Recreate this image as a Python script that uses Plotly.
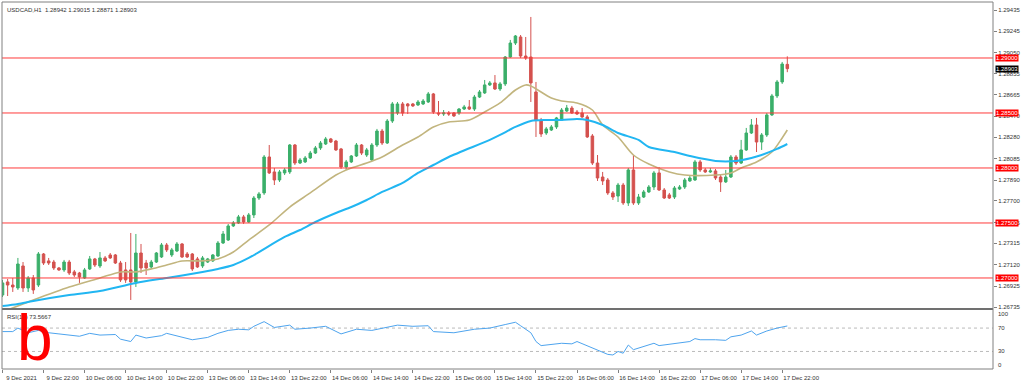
import plotly.graph_objects as go

# ---------------- data ----------------
open_ = [
    1.26845, 1.26964, 1.26936, 1.26909, 1.27109, 1.26909, 1.27000, 1.26936, 1.27218, 1.27155,
    1.27145, 1.27091, 1.27073, 1.27145, 1.27055, 1.27045, 1.27000, 1.27082, 1.27173, 1.27109,
    1.27182, 1.27209, 1.27209, 1.27136, 1.27073, 1.27073, 1.26964, 1.27227, 1.27136, 1.27100,
    1.27145, 1.27191, 1.27300, 1.27209, 1.27245, 1.27309, 1.27218, 1.27218, 1.27173, 1.27109,
    1.27145, 1.27155, 1.27200, 1.27318, 1.27345, 1.27473, 1.27500, 1.27555, 1.27509, 1.27573,
    1.27727, 1.27773, 1.28100, 1.27964, 1.27891, 1.27955, 1.27964, 1.28209, 1.28045, 1.28055,
    1.28091, 1.28136, 1.28182, 1.28218, 1.28264, 1.28245, 1.28173, 1.28009, 1.28055, 1.28109,
    1.28209, 1.28118, 1.28073, 1.28209, 1.28336, 1.28227, 1.28427, 1.28500, 1.28582, 1.28582,
    1.28582, 1.28573, 1.28582, 1.28600, 1.28673, 1.28500, 1.28491, 1.28500, 1.28500, 1.28500,
    1.28536, 1.28555, 1.28536, 1.28645, 1.28682, 1.28755, 1.28773, 1.28718, 1.28764, 1.29009,
    1.29136, 1.29191, 1.29018, 1.29009, 1.28691, 1.28436, 1.28318, 1.28345, 1.28373, 1.28436,
    1.28518, 1.28545, 1.28509, 1.28500, 1.28464, 1.28291, 1.28045, 1.27918, 1.27891, 1.27773,
    1.27745, 1.27845, 1.27682, 1.27982, 1.27682, 1.27736, 1.27782, 1.27827, 1.27955, 1.27800,
    1.27755, 1.27736, 1.27809, 1.27827, 1.27882, 1.27891, 1.28055, 1.27982, 1.27964, 1.27973,
    1.27918, 1.27873, 1.27918, 1.28100, 1.28045, 1.28164, 1.28318, 1.28391, 1.28236, 1.28300,
    1.28482, 1.28655, 1.28782, 1.28942]
high = [
    1.26982, 1.26991, 1.27000, 1.27182, 1.27145, 1.27018, 1.27027, 1.27236, 1.27227, 1.27182,
    1.27164, 1.27100, 1.27164, 1.27164, 1.27073, 1.27055, 1.27091, 1.27200, 1.27182, 1.27236,
    1.27200, 1.27227, 1.27218, 1.27155, 1.27145, 1.27409, 1.27400, 1.27309, 1.27164, 1.27164,
    1.27236, 1.27318, 1.27318, 1.27273, 1.27327, 1.27318, 1.27236, 1.27227, 1.27191, 1.27200,
    1.27182, 1.27218, 1.27336, 1.27427, 1.27491, 1.27518, 1.27573, 1.27573, 1.27591, 1.27745,
    1.27782, 1.28118, 1.28209, 1.28000, 1.27982, 1.28000, 1.28218, 1.28218, 1.28091, 1.28109,
    1.28155, 1.28200, 1.28245, 1.28282, 1.28273, 1.28255, 1.28182, 1.28073, 1.28118, 1.28227,
    1.28218, 1.28182, 1.28227, 1.28355, 1.28355, 1.28445, 1.28600, 1.28600, 1.28600, 1.28591,
    1.28591, 1.28618, 1.28627, 1.28691, 1.28682, 1.28609, 1.28527, 1.28518, 1.28509, 1.28545,
    1.28573, 1.28618, 1.28664, 1.28709, 1.28800, 1.28791, 1.28845, 1.28782, 1.29018, 1.29164,
    1.29209, 1.29209, 1.29191, 1.29373, 1.28782, 1.28455, 1.28373, 1.28391, 1.28464, 1.28545,
    1.28573, 1.28564, 1.28527, 1.28545, 1.28482, 1.28309, 1.28118, 1.27964, 1.27909, 1.27791,
    1.27864, 1.27864, 1.28000, 1.28118, 1.27764, 1.27800, 1.27845, 1.27973, 1.28009, 1.27818,
    1.27773, 1.27836, 1.27845, 1.27909, 1.27927, 1.28073, 1.28073, 1.28000, 1.28000, 1.27991,
    1.27936, 1.27982, 1.28118, 1.28118, 1.28255, 1.28364, 1.28445, 1.28455, 1.28318, 1.28500,
    1.28673, 1.28800, 1.28964, 1.29015]
low = [
    1.26827, 1.26836, 1.26873, 1.26891, 1.26873, 1.26873, 1.26855, 1.26918, 1.27118, 1.27118,
    1.27073, 1.27064, 1.27055, 1.27027, 1.27009, 1.26955, 1.26991, 1.27073, 1.27100, 1.27091,
    1.27145, 1.27173, 1.27127, 1.26964, 1.26955, 1.26800, 1.26918, 1.27045, 1.27027, 1.27082,
    1.27136, 1.27182, 1.27236, 1.27191, 1.27236, 1.27182, 1.27182, 1.27064, 1.27091, 1.27091,
    1.27136, 1.27145, 1.27191, 1.27309, 1.27336, 1.27464, 1.27491, 1.27491, 1.27500, 1.27545,
    1.27709, 1.27755, 1.27945, 1.27845, 1.27873, 1.27936, 1.27945, 1.28027, 1.28036, 1.28045,
    1.28082, 1.28127, 1.28164, 1.28209, 1.28227, 1.28155, 1.27991, 1.27982, 1.28045, 1.28100,
    1.28118, 1.28100, 1.28064, 1.28191, 1.28209, 1.28218, 1.28409, 1.28482, 1.28473, 1.28491,
    1.28555, 1.28564, 1.28573, 1.28591, 1.28491, 1.28473, 1.28473, 1.28473, 1.28464, 1.28482,
    1.28527, 1.28527, 1.28518, 1.28636, 1.28673, 1.28745, 1.28709, 1.28700, 1.28745, 1.29000,
    1.29118, 1.29000, 1.28982, 1.28600, 1.28282, 1.28282, 1.28300, 1.28336, 1.28355, 1.28427,
    1.28509, 1.28491, 1.28482, 1.28455, 1.28273, 1.28027, 1.27882, 1.27845, 1.27755, 1.27709,
    1.27691, 1.27664, 1.27655, 1.27664, 1.27664, 1.27727, 1.27773, 1.27800, 1.27791, 1.27718,
    1.27718, 1.27718, 1.27800, 1.27809, 1.27873, 1.27882, 1.27964, 1.27955, 1.27955, 1.27891,
    1.27782, 1.27864, 1.27909, 1.28027, 1.28036, 1.28155, 1.28309, 1.28145, 1.28164, 1.28282,
    1.28473, 1.28636, 1.28764, 1.28871]
close = [
    1.26955, 1.26936, 1.26918, 1.27127, 1.26909, 1.27000, 1.26891, 1.27218, 1.27136, 1.27136,
    1.27091, 1.27073, 1.27145, 1.27045, 1.27027, 1.27009, 1.27073, 1.27173, 1.27118, 1.27182,
    1.27155, 1.27182, 1.27136, 1.26982, 1.26982, 1.26964, 1.27227, 1.27091, 1.27091, 1.27145,
    1.27227, 1.27300, 1.27255, 1.27255, 1.27309, 1.27191, 1.27191, 1.27082, 1.27100, 1.27182,
    1.27173, 1.27209, 1.27318, 1.27400, 1.27473, 1.27500, 1.27555, 1.27509, 1.27573, 1.27727,
    1.27764, 1.28100, 1.27955, 1.27891, 1.27964, 1.27982, 1.28209, 1.28045, 1.28073, 1.28091,
    1.28136, 1.28182, 1.28227, 1.28264, 1.28236, 1.28164, 1.28009, 1.28055, 1.28109, 1.28209,
    1.28136, 1.28164, 1.28209, 1.28336, 1.28227, 1.28427, 1.28582, 1.28582, 1.28500, 1.28564,
    1.28564, 1.28600, 1.28609, 1.28673, 1.28509, 1.28491, 1.28500, 1.28491, 1.28473, 1.28536,
    1.28555, 1.28536, 1.28645, 1.28691, 1.28755, 1.28773, 1.28718, 1.28764, 1.29009, 1.29136,
    1.29200, 1.29018, 1.29000, 1.28773, 1.28436, 1.28309, 1.28355, 1.28373, 1.28455, 1.28527,
    1.28545, 1.28500, 1.28491, 1.28464, 1.28282, 1.28045, 1.27909, 1.27882, 1.27773, 1.27736,
    1.27845, 1.27682, 1.27982, 1.27682, 1.27736, 1.27782, 1.27827, 1.27955, 1.27800, 1.27727,
    1.27727, 1.27818, 1.27827, 1.27891, 1.27909, 1.28055, 1.27982, 1.27964, 1.27973, 1.27909,
    1.27873, 1.27918, 1.28100, 1.28045, 1.28164, 1.28318, 1.28391, 1.28236, 1.28300, 1.28482,
    1.28655, 1.28782, 1.28945, 1.28903]

# moving averages read at sample bars
ma_fast_idx = [0, 6, 13, 19, 23, 26, 29, 32, 35, 39, 42, 45, 48, 52, 56, 60, 65, 68, 71, 74,
               78, 81, 84, 87, 91, 94, 97, 100, 102, 103, 107, 109, 112, 115, 117, 120, 123,
               126, 130, 133, 139, 142, 144, 147, 150, 152, 153]
ma_fast_val = [1.26691, 1.26800, 1.26918, 1.27000, 1.27055, 1.27055, 1.27082, 1.27118, 1.27155,
               1.27155, 1.27173, 1.27236, 1.27345, 1.27482, 1.27645, 1.27773, 1.27936, 1.28000,
               1.28045, 1.28100, 1.28209, 1.28282, 1.28373, 1.28418, 1.28436, 1.28509, 1.28591,
               1.28709, 1.28755, 1.28745, 1.28636, 1.28609, 1.28591, 1.28527, 1.28391, 1.28282,
               1.28118, 1.28036, 1.27964, 1.27936, 1.27936, 1.27955, 1.28000, 1.28055, 1.28145,
               1.28273, 1.28345]
ma_slow_idx = [0, 3, 6, 13, 19, 26, 32, 39, 42, 45, 48, 55, 58, 61, 65, 68, 71, 74, 78, 81, 84,
               87, 95, 97, 100, 103, 106, 109, 112, 114, 117, 120, 124, 126, 131, 134, 139, 143,
               146, 148, 151, 153]
ma_slow_val = [1.26745, 1.26764, 1.26791, 1.26845, 1.26882, 1.26955, 1.27000, 1.27055, 1.27082,
               1.27118, 1.27182, 1.27373, 1.27436, 1.27509, 1.27591, 1.27645, 1.27709, 1.27782,
               1.27864, 1.27955, 1.28027, 1.28100, 1.28255, 1.28300, 1.28373, 1.28427, 1.28436,
               1.28436, 1.28445, 1.28436, 1.28391, 1.28318, 1.28255, 1.28191, 1.28145, 1.28109,
               1.28064, 1.28064, 1.28091, 1.28118, 1.28173, 1.28218]

rsi_idx = [0, 2, 3, 5, 7, 9, 11, 15, 17, 19, 22, 23, 25, 26, 28, 31, 32, 34, 37, 40,
           42, 44, 46, 48, 49, 51, 53, 56, 57, 60, 63, 66, 69, 72, 75, 77, 80, 83, 84, 88,
           92, 95, 98, 100, 101, 103, 104, 105, 109, 111, 112, 115, 118, 119, 120, 121, 122, 123,
           127, 128, 131, 134, 135, 136, 139, 141, 142, 144, 146, 147, 149, 151, 153]
rsi_val = [64, 64, 70, 62, 66, 62, 60, 56, 61, 58, 59, 51, 47, 58, 53, 57, 61, 57, 50, 54,
           61, 66, 68, 67, 73, 81, 71, 75, 68, 70, 73, 60, 68, 66, 72, 75, 73, 74, 64, 62,
           68, 70, 76, 80, 74, 62, 47, 40, 44, 43, 47, 36, 25, 24, 30, 27, 41, 33,
           44, 40, 43, 47, 52, 50, 50, 49, 55, 58, 65, 58, 65, 70, 73.5667]

levels = [1.29000, 1.28500, 1.28000, 1.27500, 1.27000]
price_ticks = [1.29435, 1.29245, 1.29050, 1.28855, 1.28665, 1.28470, 1.28280, 1.28085,
               1.27890, 1.27700, 1.27505, 1.27315, 1.27120, 1.26925, 1.26735]
time_tick_idx = list(range(0, 153, 8))
time_tick_text = ["9 Dec 2021", "9 Dec 22:00", "10 Dec 06:00", "10 Dec 14:00", "10 Dec 22:00",
                  "13 Dec 06:00", "13 Dec 14:00", "13 Dec 22:00", "14 Dec 06:00", "14 Dec 14:00",
                  "14 Dec 22:00", "15 Dec 06:00", "15 Dec 14:00", "15 Dec 22:00", "16 Dec 06:00",
                  "16 Dec 14:00", "16 Dec 22:00", "17 Dec 06:00", "17 Dec 14:00", "17 Dec 22:00"]
rsi_levels = [70, 30]
rsi_labels = [(94, "100"), (70, "70"), (30, "30"), (7, "0")]
symbol = "USDCAD,H1"
last_price = 1.28903
rsi_last = 73.5667

# ---------------- styling ----------------
FONT = "Liberation Sans"
GREEN = "#3BAF6A"
RED = "#D4514E"
AXIS = "#808080"
TXT = "#333333"

fig = go.Figure()
bars = list(range(len(close)))
fig.add_trace(go.Candlestick(
    x=bars, open=open_, high=high, low=low, close=close,
    increasing=dict(line=dict(color=GREEN, width=1), fillcolor=GREEN),
    decreasing=dict(line=dict(color=RED, width=1), fillcolor=RED),
    whiskerwidth=0, showlegend=False, hoverinfo="skip", xaxis="x", yaxis="y"))
fig.add_trace(go.Scatter(x=ma_fast_idx, y=ma_fast_val, mode="lines",
                         line=dict(color="#C2B57E", width=1.6, shape="spline", smoothing=0.8),
                         showlegend=False, hoverinfo="skip", xaxis="x", yaxis="y"))
fig.add_trace(go.Scatter(x=ma_slow_idx, y=ma_slow_val, mode="lines",
                         line=dict(color="#21B6F2", width=2, shape="spline", smoothing=0.8),
                         showlegend=False, hoverinfo="skip", xaxis="x", yaxis="y"))
fig.add_trace(go.Scatter(x=rsi_idx, y=rsi_val, mode="lines",
                         line=dict(color="#4EA4EE", width=1),
                         showlegend=False, hoverinfo="skip", xaxis="x", yaxis="y2"))

W, H = 1024, 383
ML, MR, MT, MB = 2, 31, 2, 14
ph = H - MT - MB
main_bottom = (H - MB - 308) / ph
rsi_top = (H - MB - 310) / ph

shapes = []
for lv in levels:
    shapes.append(dict(type="line", xref="paper", x0=0, x1=1, yref="y", y0=lv, y1=lv,
                       line=dict(color="#FF3B3B", width=1), layer="above"))
for lv in rsi_levels:
    shapes.append(dict(type="line", xref="paper", x0=0, x1=1, yref="y2", y0=lv, y1=lv,
                       line=dict(color="#BBBBBB", width=1, dash="dot"), layer="below"))
shapes.append(dict(type="rect", xref="paper", yref="paper", x0=0, x1=1, y0=rsi_top, y1=main_bottom,
                   fillcolor="#707070", line=dict(width=0)))
shapes.append(dict(type="rect", xref="paper", yref="paper", x0=0, x1=1, y0=0, y1=1,
                   line=dict(color=AXIS, width=1)))

annotations = []
for lv in levels:
    annotations.append(dict(xref="paper", x=1, xanchor="left", xshift=2, yref="y", y=lv,
                            text=f"{lv:.5f}", showarrow=False, bgcolor="#FF0000",
                            font=dict(family=FONT, size=6, color="white"), borderpad=0))
annotations.append(dict(xref="paper", x=1, xanchor="left", xshift=2, yref="y", y=last_price,
                        text=f"{last_price:.5f}", showarrow=False, bgcolor="#000000",
                        font=dict(family=FONT, size=6, color="white"), borderpad=0))
for v, t in rsi_labels:
    annotations.append(dict(xref="paper", x=1, xanchor="left", xshift=3, yref="y2", y=v,
                            text=t, showarrow=False, font=dict(family=FONT, size=6, color=TXT)))
annotations.append(dict(xref="paper", x=0, xanchor="left", xshift=3, yref="paper", y=1,
                        yanchor="top", yshift=-3,
                        text=f"{symbol}\u00a0 {open_[-1]:.5f} {high[-1]:.5f} {low[-1]:.5f} {close[-1]:.5f}",
                        showarrow=False, font=dict(family=FONT, size=6, color=TXT)))
annotations.append(dict(xref="paper", x=0, xanchor="left", xshift=3, yref="paper", y=rsi_top,
                        yanchor="top", yshift=-2, text=f"RSI(14) {rsi_last:.4f}",
                        showarrow=False, font=dict(family=FONT, size=6, color=TXT)))
annotations.append(dict(xref="paper", x=0, xanchor="left", xshift=13, yref="paper", y=0,
                        yanchor="bottom", yshift=-7, text="b", showarrow=False,
                        font=dict(family=FONT, size=64, color="#FF0000")))

fig.update_layout(
    width=W, height=H, margin=dict(l=ML, r=MR, t=MT, b=MB),
    paper_bgcolor="white", plot_bgcolor="white", showlegend=False,
    font=dict(family=FONT, size=6, color=TXT),
    xaxis=dict(range=[-0.1, 193.1], domain=[0, 1], anchor="y2", rangeslider=dict(visible=False),
               tickmode="array", tickvals=time_tick_idx, ticktext=time_tick_text,
               ticks="outside", ticklen=3, tickcolor=AXIS, tickfont=dict(size=6, color=TXT),
               ticklabelshift=19, ticklabelstandoff=0,
               showgrid=False, zeroline=False, showline=False),
    yaxis=dict(domain=[main_bottom, 1], range=[1.26727, 1.29509], side="right", anchor="x",
               tickmode="array", tickvals=price_ticks, ticktext=[f"{v:.5f}" for v in price_ticks],
               ticks="outside", ticklen=3, tickcolor=AXIS, tickfont=dict(size=6, color=TXT),
               showgrid=False, zeroline=False, showline=False),
    yaxis2=dict(domain=[0, rsi_top], range=[0, 100.9], side="right", anchor="x",
                showticklabels=False, ticks="", showgrid=False, zeroline=False, showline=False),
    shapes=shapes, annotations=annotations,
)

fig.write_html("out.html", config={"displayModeBar": False},
               post_script="document.body.style.margin='0';document.body.style.overflow='hidden';")
